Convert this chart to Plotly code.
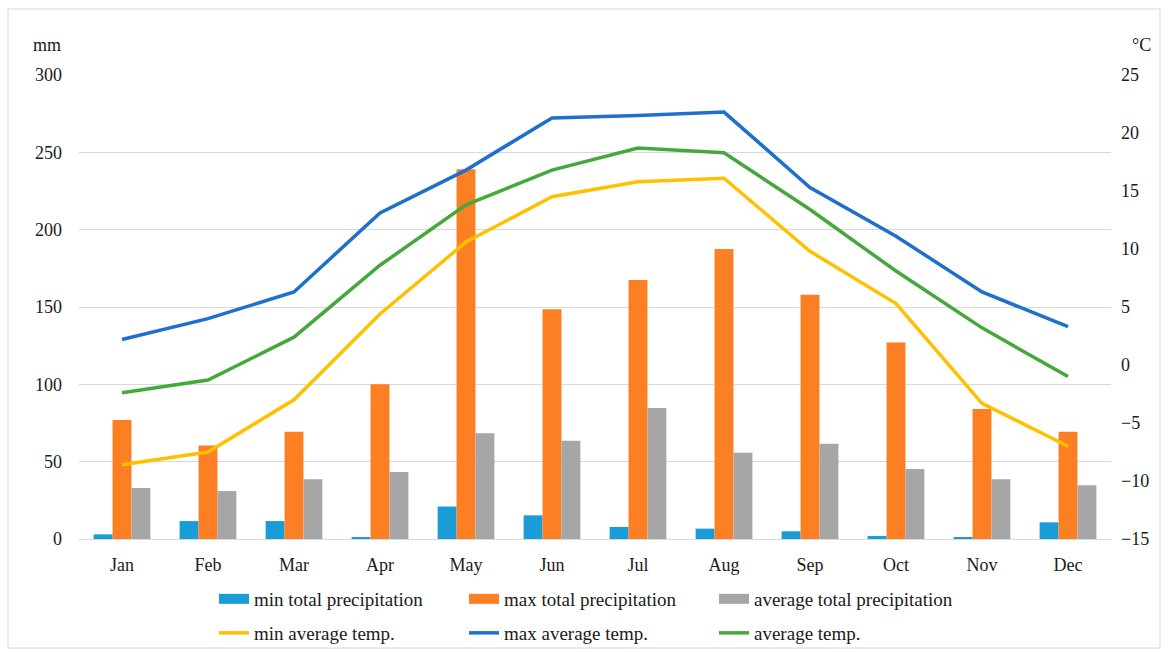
import plotly.graph_objects as go

# ---- data ----
months = ["Jan", "Feb", "Mar", "Apr", "May", "Jun", "Jul", "Aug", "Sep", "Oct", "Nov", "Dec"]
min_prec = [3, 11.6, 11.6, 1, 21, 15.3, 7.8, 6.7, 5, 2, 1, 10.8]
max_prec = [77, 60.5, 69.4, 100, 239, 148.5, 167.4, 187.5, 158, 127, 84, 69.4]
avg_prec = [33, 31, 38.6, 43.3, 68.3, 63.5, 84.7, 55.8, 61.6, 45.2, 38.6, 34.7]
min_temp = [-8.6, -7.5, -3.0, 4.4, 10.6, 14.5, 15.8, 16.1, 9.8, 5.3, -3.3, -7.0]
max_temp = [2.2, 4.0, 6.3, 13.1, 16.8, 21.3, 21.5, 21.8, 15.3, 11.1, 6.3, 3.3]
avg_temp = [-2.4, -1.3, 2.4, 8.6, 13.8, 16.8, 18.7, 18.3, 13.4, 8.1, 3.2, -1.0]
left_ticks = [0, 50, 100, 150, 200, 250, 300]
right_ticks = [-15, -10, -5, 0, 5, 10, 15, 20, 25]

# ---- style ----
FONT = "Liberation Serif"
W, H = 1169, 652
L, R, T, B = 79, 58, 75, 113
PW, PH = W - L - R, H - T - B

def px(x):
    return (x - L) / PW

def py(y):
    return (H - B - y) / PH

def cx(x):
    return x / W

def cy(y):
    return 1 - y / H

C_MINP = "#1a9dd6"
C_MAXP = "#fd7f23"
C_AVGP = "#a6a6a6"
C_MINT = "#ffc000"
C_MAXT = "#1f6fcc"
C_AVGT = "#45a83b"
TXT = "#1a1a1a"

def fnt(size):
    return dict(family=FONT, size=size, color=TXT)

fig = go.Figure()

bars = [("min total precipitation", min_prec, C_MINP),
        ("max total precipitation", max_prec, C_MAXP),
        ("average total precipitation", avg_prec, C_AVGP)]
for name, vals, col in bars:
    fig.add_trace(go.Bar(x=months, y=vals, name=name, marker=dict(color=col, line=dict(width=0)),
                         legendgroup=name, showlegend=False, yaxis="y"))
for name, vals, col in bars:
    fig.add_trace(go.Scatter(x=[None], y=[None], mode="lines", name=name, legendgroup=name,
                             line=dict(color=col, width=11), legend="legend", yaxis="y"))

lines = [("min average temp.", min_temp, C_MINT),
         ("max average temp.", max_temp, C_MAXT),
         ("average temp.", avg_temp, C_AVGT)]
for name, vals, col in lines:
    fig.add_trace(go.Scatter(x=months, y=vals, name=name, mode="lines",
                             line=dict(color=col, width=3.5), yaxis="y2", legend="legend2"))

leg_common = dict(orientation="h", xref="container", yref="container", xanchor="left",
                  yanchor="middle", entrywidth=205, entrywidthmode="pixels",
                  font=fnt(19), traceorder="normal", bgcolor="rgba(0,0,0,0)")

fig.update_layout(
    width=W, height=H, autosize=False,
    margin=dict(l=L, r=R, t=T, b=B, autoexpand=False),
    paper_bgcolor="white", plot_bgcolor="white",
    font=fnt(18),
    barmode="group", bargap=0.34, bargroupgap=0,
    xaxis=dict(showgrid=False, showline=True, linecolor="#d9d9d9", linewidth=1,
               ticks="", tickfont=fnt(18), ticklabelstandoff=9),
    yaxis=dict(range=[0, 300], tickvals=left_ticks, showgrid=True, gridcolor="#d9d9d9",
               gridwidth=1, zeroline=False, showline=False, ticks="",
               tickfont=fnt(18), ticklabelstandoff=16),
    yaxis2=dict(range=[-15, 25], tickvals=right_ticks, overlaying="y", side="right",
                showgrid=False, zeroline=False, showline=False, ticks="",
                tickfont=fnt(18), ticklabelstandoff=9),
    legend=dict(x=cx(214), y=cy(599), **leg_common),
    legend2=dict(x=cx(214), y=cy(633), **leg_common),
    showlegend=True,
)

fig.add_annotation(text="mm", x=px(47), y=py(45), xref="paper", yref="paper",
                   showarrow=False, font=fnt(18), xanchor="center", yanchor="middle")
fig.add_annotation(text="°C", x=px(1141), y=py(45), xref="paper", yref="paper",
                   showarrow=False, font=fnt(18), xanchor="center", yanchor="middle")

fig.add_shape(type="rect", xref="paper", yref="paper",
              x0=px(8), x1=px(1160), y0=py(648), y1=py(9),
              line=dict(color="#d9d9d9", width=1), fillcolor="rgba(0,0,0,0)", layer="below")

fig.write_html(
    "out.html",
    config={"responsive": False, "displayModeBar": False},
    post_script="document.body.style.margin='0';document.body.style.overflow='hidden';"
                "document.documentElement.style.overflow='hidden';",
)
